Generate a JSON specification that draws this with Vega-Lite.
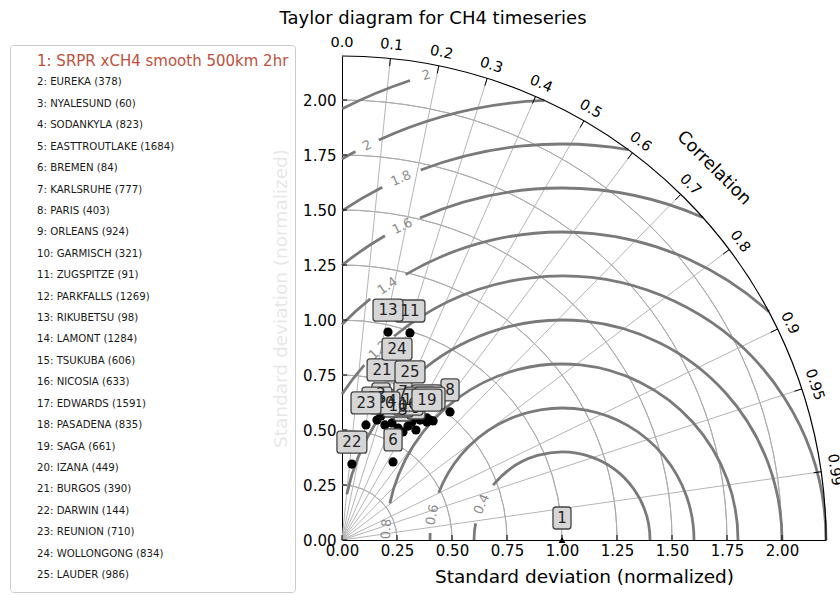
{
  "$schema": "https://vega.github.io/schema/vega-lite/v6.json",
  "width": 484,
  "height": 484,
  "autosize": {"type": "none"},
  "padding": {"left": 342, "top": 56, "right": 14, "bottom": 55},
  "background": "white",
  "config": {"font": "DejaVu Sans", "view": {"stroke": null}},
  "title": {"text": "Taylor diagram for  CH4 timeseries", "fontSize": 18, "fontWeight": "normal", "font": "DejaVu Sans", "color": "#000000", "anchor": "middle", "frame": "group", "dx": -151, "offset": 7},
  "datasets": {
    "stations": [
      {"id": 1, "name": "1: SRPR xCH4 smooth 500km 2hr", "x": 1.0, "y": 0.0},
      {"id": 2, "name": "2: EUREKA (378)", "x": 0.177, "y": 0.564},
      {"id": 3, "name": "3: NYALESUND (60)", "x": 0.277, "y": 0.491},
      {"id": 4, "name": "4: SODANKYLA (823)", "x": 0.227, "y": 0.532},
      {"id": 5, "name": "5: EASTTROUTLAKE (1684)", "x": 0.414, "y": 0.541},
      {"id": 6, "name": "6: BREMEN (84)", "x": 0.232, "y": 0.355},
      {"id": 7, "name": "7: KARLSRUHE (777)", "x": 0.277, "y": 0.573},
      {"id": 8, "name": "8: PARIS (403)", "x": 0.491, "y": 0.582},
      {"id": 9, "name": "9: ORLEANS (924)", "x": 0.336, "y": 0.5},
      {"id": 10, "name": "10: GARMISCH (321)", "x": 0.255, "y": 0.509},
      {"id": 11, "name": "11: ZUGSPITZE (91)", "x": 0.309, "y": 0.941},
      {"id": 12, "name": "12: PARKFALLS (1269)", "x": 0.386, "y": 0.555},
      {"id": 13, "name": "13: RIKUBETSU (98)", "x": 0.209, "y": 0.945},
      {"id": 14, "name": "14: LAMONT (1284)", "x": 0.355, "y": 0.545},
      {"id": 15, "name": "15: TSUKUBA (606)", "x": 0.159, "y": 0.545},
      {"id": 16, "name": "16: NICOSIA (633)", "x": 0.3, "y": 0.518},
      {"id": 17, "name": "17: EDWARDS (1591)", "x": 0.318, "y": 0.536},
      {"id": 18, "name": "18: PASADENA (835)", "x": 0.4, "y": 0.545},
      {"id": 19, "name": "19: SAGA (661)", "x": 0.386, "y": 0.536},
      {"id": 20, "name": "20: IZANA (449)", "x": 0.195, "y": 0.523},
      {"id": 21, "name": "21: BURGOS (390)", "x": 0.182, "y": 0.673},
      {"id": 22, "name": "22: DARWIN (144)", "x": 0.045, "y": 0.345},
      {"id": 23, "name": "23: REUNION (710)", "x": 0.109, "y": 0.523},
      {"id": 24, "name": "24: WOLLONGONG (834)", "x": 0.25, "y": 0.768},
      {"id": 25, "name": "25: LAUDER (986)", "x": 0.309, "y": 0.664}
    ],
    "xTicks": [
      {"x": 0, "y": 0}, {"x": 0.25, "y": 0}, {"x": 0.5, "y": 0}, {"x": 0.75, "y": 0}, {"x": 1, "y": 0},
      {"x": 1.25, "y": 0}, {"x": 1.5, "y": 0}, {"x": 1.75, "y": 0}, {"x": 2, "y": 0}
    ],
    "yTicks": [
      {"x": 0, "y": 0}, {"x": 0, "y": 0.25}, {"x": 0, "y": 0.5}, {"x": 0, "y": 0.75}, {"x": 0, "y": 1},
      {"x": 0, "y": 1.25}, {"x": 0, "y": 1.5}, {"x": 0, "y": 1.75}, {"x": 0, "y": 2}
    ],
    "stdArcs": [
      {"x": 0, "y": 0, "r": 0.25, "a1": 0, "a2": 90},
      {"x": 0, "y": 0, "r": 0.5, "a1": 0, "a2": 90},
      {"x": 0, "y": 0, "r": 0.75, "a1": 0, "a2": 90},
      {"x": 0, "y": 0, "r": 1.0, "a1": 0, "a2": 90},
      {"x": 0, "y": 0, "r": 1.25, "a1": 0, "a2": 90},
      {"x": 0, "y": 0, "r": 1.5, "a1": 0, "a2": 90},
      {"x": 0, "y": 0, "r": 1.75, "a1": 0, "a2": 90},
      {"x": 0, "y": 0, "r": 2.0, "a1": 0, "a2": 90}
    ],
    "outerArc": [
      {"x": 0, "y": 0, "r": 2.2, "a1": 0, "a2": 90}
    ],
    "contours": [
      {"x": 1, "y": 0, "r": 0.4, "a1": 0, "a2": 141.5},
      {"x": 1, "y": 0, "r": 0.4, "a1": 169, "a2": 180},
      {"x": 1, "y": 0, "r": 0.6, "a1": 0, "a2": 159},
      {"x": 1, "y": 0, "r": 0.6, "a1": 177, "a2": 180},
      {"x": 1, "y": 0, "r": 0.8, "a1": 0, "a2": 168},
      {"x": 1, "y": 0, "r": 1.0, "a1": 0, "a2": 168},
      {"x": 1, "y": 0, "r": 1.2, "a1": 0, "a2": 129.5},
      {"x": 1, "y": 0, "r": 1.2, "a1": 138.5, "a2": 146.4},
      {"x": 1, "y": 0, "r": 1.4, "a1": 47.8, "a2": 120.5},
      {"x": 1, "y": 0, "r": 1.4, "a1": 128.5, "a2": 135.6},
      {"x": 1, "y": 0, "r": 1.6, "a1": 66.4, "a2": 113.8},
      {"x": 1, "y": 0, "r": 1.6, "a1": 120.2, "a2": 128.7},
      {"x": 1, "y": 0, "r": 1.8, "a1": 80.4, "a2": 110.9},
      {"x": 1, "y": 0, "r": 1.8, "a1": 117, "a2": 123.7},
      {"x": 1, "y": 0, "r": 2.0, "a1": 92.3, "a2": 114.6},
      {"x": 1, "y": 0, "r": 2.0, "a1": 118, "a2": 120},
      {"x": 1, "y": 0, "r": 2.2, "a1": 108.3, "a2": 117}
    ],
    "contourLabels": [
      {"label": "2", "x": 0.383, "y": 2.112, "ang": 106.3},
      {"label": "2", "x": 0.114, "y": 1.793, "ang": 116.3},
      {"label": "1.8", "x": 0.268, "y": 1.644, "ang": 114},
      {"label": "1.6", "x": 0.274, "y": 1.426, "ang": 117},
      {"label": "1.4", "x": 0.207, "y": 1.154, "ang": 124.5},
      {"label": "1.2", "x": 0.166, "y": 0.863, "ang": 134},
      {"label": "0.8", "x": 0.2016, "y": 0.05, "ang": 176.4},
      {"label": "0.6", "x": 0.411, "y": 0.1145, "ang": 169},
      {"label": "0.4", "x": 0.635, "y": 0.163, "ang": 156}
    ],
    "corrLines": [
      {"x": 0, "y": 0, "x2": 0.22, "y2": 2.189},
      {"x": 0, "y": 0, "x2": 0.44, "y2": 2.1556},
      {"x": 0, "y": 0, "x2": 0.66, "y2": 2.0987},
      {"x": 0, "y": 0, "x2": 0.88, "y2": 2.0163},
      {"x": 0, "y": 0, "x2": 1.1, "y2": 1.9053},
      {"x": 0, "y": 0, "x2": 1.32, "y2": 1.76},
      {"x": 0, "y": 0, "x2": 1.54, "y2": 1.5711},
      {"x": 0, "y": 0, "x2": 1.76, "y2": 1.32},
      {"x": 0, "y": 0, "x2": 1.98, "y2": 0.959},
      {"x": 0, "y": 0, "x2": 2.09, "y2": 0.687},
      {"x": 0, "y": 0, "x2": 2.178, "y2": 0.3104}
    ],
    "corrTicks": [
      {"x": 0.22, "y": 2.189, "x2": 0.2165, "y2": 2.1542},
      {"x": 0.44, "y": 2.1556, "x2": 0.433, "y2": 2.1213},
      {"x": 0.66, "y": 2.0987, "x2": 0.6495, "y2": 2.0653},
      {"x": 0.88, "y": 2.0163, "x2": 0.866, "y2": 1.9843},
      {"x": 1.1, "y": 1.9053, "x2": 1.0825, "y2": 1.875},
      {"x": 1.32, "y": 1.76, "x2": 1.299, "y2": 1.732},
      {"x": 1.54, "y": 1.5711, "x2": 1.5155, "y2": 1.5461},
      {"x": 1.76, "y": 1.32, "x2": 1.732, "y2": 1.299},
      {"x": 1.98, "y": 0.959, "x2": 1.9485, "y2": 0.9437},
      {"x": 2.09, "y": 0.687, "x2": 2.0568, "y2": 0.676},
      {"x": 2.178, "y": 0.3104, "x2": 2.1434, "y2": 0.3054}
    ],
    "corrLabels": [
      {"label": "0.0", "x": 0, "y": 2.26, "ang": 90},
      {"label": "0.1", "x": 0.226, "y": 2.2487, "ang": 84.26},
      {"label": "0.2", "x": 0.452, "y": 2.2143, "ang": 78.46},
      {"label": "0.3", "x": 0.678, "y": 2.1559, "ang": 72.54},
      {"label": "0.4", "x": 0.904, "y": 2.0713, "ang": 66.42},
      {"label": "0.5", "x": 1.13, "y": 1.9572, "ang": 60},
      {"label": "0.6", "x": 1.356, "y": 1.808, "ang": 53.13},
      {"label": "0.7", "x": 1.582, "y": 1.614, "ang": 45.57},
      {"label": "0.8", "x": 1.808, "y": 1.356, "ang": 36.87},
      {"label": "0.9", "x": 2.034, "y": 0.9851, "ang": 25.84},
      {"label": "0.95", "x": 2.147, "y": 0.7057, "ang": 18.19},
      {"label": "0.99", "x": 2.2374, "y": 0.3188, "ang": 8.11}
    ],
    "corrTitle": [
      {"label": "Correlation", "x": 1.69, "y": 1.69, "ang": 45}
    ]
  },
  "encoding": {
    "x": {
      "field": "x", "type": "quantitative",
      "scale": {"domain": [0, 2.2], "nice": false, "zero": true},
      "axis": {"title": "Standard deviation (normalized)", "values": [0, 0.25, 0.5, 0.75, 1, 1.25, 1.5, 1.75, 2], "format": ".2f", "grid": false, "ticks": false, "labelFontSize": 15, "titleFontSize": 18.5, "titleFontWeight": "normal", "labelColor": "#000000", "titleColor": "#000000", "domainColor": "#000000", "labelPadding": 3, "titlePadding": 9, "labelFlush": false, "labelOverlap": false}
    },
    "y": {
      "field": "y", "type": "quantitative",
      "scale": {"domain": [0, 2.2], "nice": false, "zero": true},
      "axis": {"title": "Standard deviation (normalized)", "values": [0, 0.25, 0.5, 0.75, 1, 1.25, 1.5, 1.75, 2], "format": ".2f", "grid": false, "ticks": false, "labelFontSize": 15, "titleFontSize": 18.5, "titleFontWeight": "normal", "labelColor": "#000000", "titleColor": "#000000", "domainColor": "#000000", "labelPadding": 6, "titlePadding": 12, "labelFlush": false, "labelOverlap": false}
    }
  },
  "layer": [
    {
      "data": {"name": "stdArcs"},
      "mark": {"type": "arc", "filled": false, "stroke": "#ababab", "strokeWidth": 1},
      "encoding": {
        "theta": {"field": "a1", "type": "quantitative", "stack": null, "scale": {"type": "linear", "domain": [0, 360], "range": [1.5707963, -4.712389]}},
        "theta2": {"field": "a2"},
        "radius": {"field": "r", "type": "quantitative", "scale": {"type": "linear", "domain": [0, 2.2], "range": [0, 484], "zero": true}},
        "radius2": {"field": "r"}
      }
    },
    {
      "data": {"name": "corrLines"},
      "mark": {"type": "rule", "color": "#b5b5b5", "strokeWidth": 1},
      "encoding": {"x2": {"field": "x2"}, "y2": {"field": "y2"}}
    },
    {
      "data": {"name": "contours"},
      "mark": {"type": "arc", "filled": false, "stroke": "#7a7a7a", "strokeWidth": 2.8},
      "encoding": {
        "theta": {"field": "a1", "type": "quantitative", "stack": null, "scale": {"type": "linear", "domain": [0, 360], "range": [1.5707963, -4.712389]}},
        "theta2": {"field": "a2"},
        "radius": {"field": "r", "type": "quantitative", "scale": {"type": "linear", "domain": [0, 2.2], "range": [0, 484], "zero": true}},
        "radius2": {"field": "r"}
      }
    },
    {
      "data": {"name": "contourLabels"},
      "mark": {"type": "text", "color": "#8c8c8c", "fontSize": 13, "align": "center", "baseline": "middle"},
      "encoding": {
        "text": {"field": "label"},
        "angle": {"field": "ang", "type": "quantitative", "scale": {"domain": [0, 180], "range": [90, -90]}, "legend": null}
      }
    },
    {
      "data": {"name": "outerArc"},
      "mark": {"type": "arc", "filled": false, "stroke": "#000000", "strokeWidth": 1.2},
      "encoding": {
        "theta": {"field": "a1", "type": "quantitative", "stack": null, "scale": {"type": "linear", "domain": [0, 360], "range": [1.5707963, -4.712389]}},
        "theta2": {"field": "a2"},
        "radius": {"field": "r", "type": "quantitative", "scale": {"type": "linear", "domain": [0, 2.2], "range": [0, 484], "zero": true}},
        "radius2": {"field": "r"}
      }
    },
    {
      "data": {"name": "corrTicks"},
      "mark": {"type": "rule", "color": "#000000", "strokeWidth": 1},
      "encoding": {"x2": {"field": "x2"}, "y2": {"field": "y2"}}
    },
    {
      "data": {"name": "xTicks"},
      "mark": {"type": "rule", "color": "#000000", "strokeWidth": 1, "y2Offset": -5},
      "encoding": {"y2": {"field": "y"}}
    },
    {
      "data": {"name": "yTicks"},
      "mark": {"type": "rule", "color": "#000000", "strokeWidth": 1, "x2Offset": 5},
      "encoding": {"x2": {"field": "x"}}
    },
    {
      "data": {"name": "corrLabels"},
      "mark": {"type": "text", "color": "#000000", "fontSize": 14.5, "align": "center", "baseline": "middle"},
      "encoding": {
        "text": {"field": "label"},
        "angle": {"field": "ang", "type": "quantitative", "scale": {"domain": [0, 180], "range": [90, -90]}, "legend": null}
      }
    },
    {
      "data": {"name": "corrTitle"},
      "mark": {"type": "text", "color": "#000000", "fontSize": 17.5, "align": "center", "baseline": "middle"},
      "encoding": {
        "text": {"field": "label"},
        "angle": {"field": "ang", "type": "quantitative", "scale": {"domain": [0, 180], "range": [90, -90]}, "legend": null}
      }
    },
    {
      "data": {"name": "stations"},
      "mark": {"type": "point", "filled": true, "color": "#000000", "opacity": 1},
      "encoding": {
        "shape": {"condition": {"test": "datum.id === 1", "value": "triangle-up"}, "value": "circle"},
        "size": {"condition": {"test": "datum.id === 1", "value": 45}, "value": 85}
      }
    },
    {
      "data": {"name": "stations"},
      "mark": {"type": "point", "filled": true, "opacity": 0},
      "encoding": {
        "color": {
          "field": "name", "type": "nominal", "sort": null,
          "scale": {"range": ["#000000"]},
          "legend": {
            "orient": "none", "legendX": -332, "legendY": -11, "title": null, "direction": "vertical",
            "symbolType": "square", "symbolSize": 400, "symbolOpacity": 0, "symbolStrokeWidth": 0,
            "labelFont": "DejaVu Sans", "labelFontSize": 10.2, "labelLimit": 400, "labelOffset": 1, "labelColor": "#1a1a1a",
            "rowPadding": 1.42, "padding": 6, "fillColor": "rgba(255,255,255,0.9)", "strokeColor": "#cccccc", "cornerRadius": 3,
            "encode": {"labels": {"update": {
              "fill": {"signal": "datum.value === '1: SRPR xCH4 smooth 500km 2hr' ? '#c0503c' : '#1a1a1a'"},
              "fontSize": {"signal": "datum.value === '1: SRPR xCH4 smooth 500km 2hr' ? 15 : 10.2"}
            }}}
          }
        }
      }
    },
    {
      "data": {"name": "stations"},
      "transform": [{"filter": "datum.id == 2 || datum.id == 3 || datum.id == 4 || datum.id == 5 || datum.id == 7 || datum.id == 8 || datum.id == 9 || datum.id == 10 || datum.id == 12 || (datum.id >= 14 && datum.id <= 18) || datum.id == 20"}],
      "mark": {"type": "point", "filled": true, "fill": "#d6d6d6", "stroke": "#444444", "strokeWidth": 1.3, "opacity": 1, "size": 484, "yOffset": -22},
      "encoding": {
        "shape": {"condition": {"test": "datum.id >= 10", "value": "M-1.09,-1H1.09A0.27,0.27 0 0 1 1.36,-0.73V0.73A0.27,0.27 0 0 1 1.09,1H-1.09A0.27,0.27 0 0 1 -1.36,0.73V-0.73A0.27,0.27 0 0 1 -1.09,-1Z"}, "value": "M-0.55,-1H0.55A0.27,0.27 0 0 1 0.82,-0.73V0.73A0.27,0.27 0 0 1 0.55,1H-0.55A0.27,0.27 0 0 1 -0.82,0.73V-0.73A0.27,0.27 0 0 1 -0.55,-1Z"}
      }
    },
    {
      "data": {"name": "stations"},
      "transform": [{"filter": "datum.id == 2 || datum.id == 3 || datum.id == 4 || datum.id == 5 || datum.id == 7 || datum.id == 8 || datum.id == 9 || datum.id == 10 || datum.id == 12 || (datum.id >= 14 && datum.id <= 18) || datum.id == 20"}],
      "mark": {"type": "text", "color": "#222222", "fontSize": 15, "align": "center", "baseline": "middle", "yOffset": -22},
      "encoding": {"text": {"field": "id", "type": "nominal"}}
    },
    {
      "data": {"name": "stations"},
      "transform": [{"filter": "!(datum.id == 2 || datum.id == 3 || datum.id == 4 || datum.id == 5 || datum.id == 7 || datum.id == 8 || datum.id == 9 || datum.id == 10 || datum.id == 12 || (datum.id >= 14 && datum.id <= 18) || datum.id == 20)"}],
      "mark": {"type": "point", "filled": true, "fill": "#d6d6d6", "stroke": "#444444", "strokeWidth": 1.3, "opacity": 1, "size": 484, "yOffset": -22},
      "encoding": {
        "shape": {"condition": {"test": "datum.id >= 10", "value": "M-1.09,-1H1.09A0.27,0.27 0 0 1 1.36,-0.73V0.73A0.27,0.27 0 0 1 1.09,1H-1.09A0.27,0.27 0 0 1 -1.36,0.73V-0.73A0.27,0.27 0 0 1 -1.09,-1Z"}, "value": "M-0.55,-1H0.55A0.27,0.27 0 0 1 0.82,-0.73V0.73A0.27,0.27 0 0 1 0.55,1H-0.55A0.27,0.27 0 0 1 -0.82,0.73V-0.73A0.27,0.27 0 0 1 -0.55,-1Z"}
      }
    },
    {
      "data": {"name": "stations"},
      "transform": [{"filter": "!(datum.id == 2 || datum.id == 3 || datum.id == 4 || datum.id == 5 || datum.id == 7 || datum.id == 8 || datum.id == 9 || datum.id == 10 || datum.id == 12 || (datum.id >= 14 && datum.id <= 18) || datum.id == 20)"}],
      "mark": {"type": "text", "color": "#222222", "fontSize": 15, "align": "center", "baseline": "middle", "yOffset": -22},
      "encoding": {"text": {"field": "id", "type": "nominal"}}
    }
  ]
}
